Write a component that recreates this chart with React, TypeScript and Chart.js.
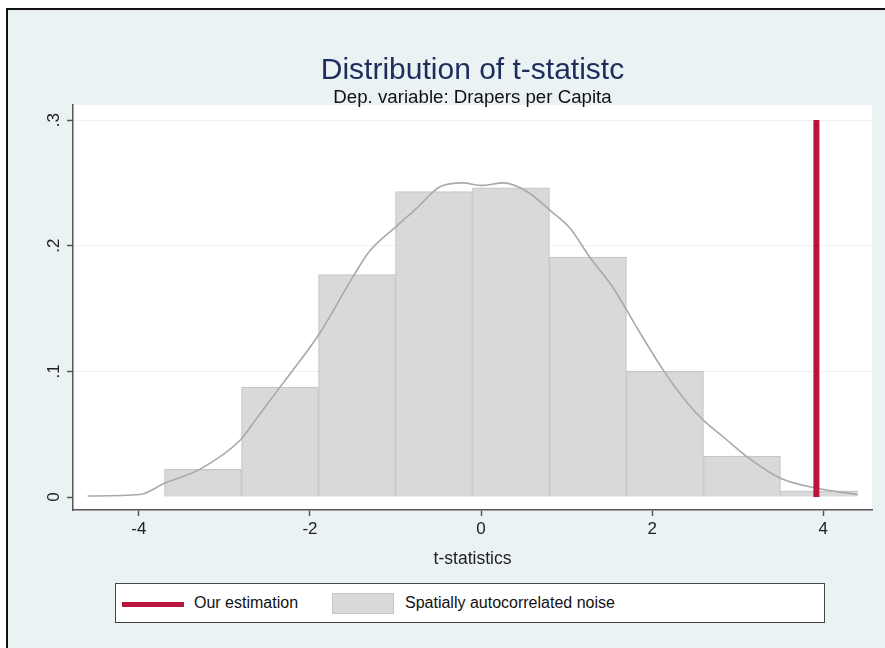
import React, { useEffect, useRef } from 'react';
import { Chart, registerables } from 'chart.js';

Chart.register(...registerables);

// Histogram bins (bin width 0.9)
const binCenters = [-3.25, -2.35, -1.45, -0.55, 0.35, 1.25, 2.15, 3.05, 3.95];
const binHeights = [0.022, 0.0875, 0.177, 0.243, 0.246, 0.191, 0.1, 0.0326, 0.005];

// Kernel density curve
const densityX = [-4.6, -3.99, -3.7, -3.29, -2.82, -2.62, -2.35, -1.88, -1.5, -1.3, -0.98, -0.75, -0.48, -0.21, 0.0, 0.26, 0.54, 0.81, 1.04, 1.27, 1.54, 1.82, 2.13, 2.41, 2.6, 2.83, 3.11, 3.5, 3.93, 4.4];
const densityY = [0.0008, 0.002, 0.011, 0.022, 0.045, 0.063, 0.0875, 0.131, 0.175, 0.196, 0.216, 0.23, 0.247, 0.25, 0.248, 0.25, 0.243, 0.228, 0.214, 0.191, 0.167, 0.135, 0.101, 0.075, 0.061, 0.048, 0.032, 0.015, 0.007, 0.002];

// Our estimation (vertical line)
const estimationX = 3.92;
const estimationSpan = [0, 0.3];

// Axes
const xTicks = [-4, -2, 0, 2, 4];
const xTickLabels = ['-4', '-2', '0', '2', '4'];
const yTicks = [0, 0.1, 0.2, 0.3];
const yTickLabels = ['0', '.1', '.2', '.3'];

const FONT = '"Liberation Sans", Arial, Helvetica, sans-serif';

export default function App() {
  const ref = useRef<HTMLCanvasElement>(null);

  useEffect(() => {
    const plotBg = {
      id: 'plotBg',
      beforeDraw(chart: any) {
        const { ctx, chartArea } = chart;
        ctx.save();
        ctx.fillStyle = '#ffffff';
        ctx.fillRect(chartArea.left, chartArea.top, chartArea.right - chartArea.left, chartArea.bottom - chartArea.top);
        ctx.restore();
      },
    };

    const chart = new Chart(ref.current as HTMLCanvasElement, {
      type: 'bar',
      data: {
        datasets: [
          {
            type: 'line',
            label: 'Our estimation',
            data: estimationSpan.map((y) => ({ x: estimationX, y })),
            borderColor: '#b8143e',
            borderWidth: 6,
            borderCapStyle: 'butt',
            pointRadius: 0,
            fill: false,
            order: 0,
          } as any,
          {
            type: 'line',
            label: 'density',
            data: densityX.map((x, i) => ({ x, y: densityY[i] })),
            borderColor: '#a9a9a9',
            borderWidth: 1.6,
            pointRadius: 0,
            tension: 0.4,
            cubicInterpolationMode: 'monotone',
            fill: false,
            order: 1,
          } as any,
          {
            type: 'bar',
            label: 'Spatially autocorrelated noise',
            data: binCenters.map((x, i) => ({ x, y: binHeights[i] })),
            backgroundColor: '#d9d9d9',
            borderColor: '#c6c6c6',
            borderWidth: 1.2,
            barPercentage: 1,
            categoryPercentage: 1,
            order: 2,
          } as any,
        ],
      },
      options: {
        animation: false,
        responsive: false,
        events: [],
        layout: { padding: { left: 0, top: 105, right: 13, bottom: 78 } },
        plugins: {
          legend: { display: false },
          title: { display: false },
          tooltip: { enabled: false },
        },
        scales: {
          x: {
            type: 'linear',
            min: -4.77,
            max: 4.57,
            offset: false,
            afterBuildTicks: (scale: any) => {
              scale.ticks = xTicks.map((v) => ({ value: v }));
            },
            afterFit: (scale: any) => {
              scale.height = 60;
            },
            ticks: {
              padding: 3,
              color: '#222',
              font: { family: FONT, size: 17 },
              maxRotation: 0,
              autoSkip: false,
              callback: (v: any) => {
                const i = xTicks.indexOf(Number(v));
                return i >= 0 ? xTickLabels[i] : '';
              },
            },
            grid: {
              offset: false,
              drawOnChartArea: false,
              drawTicks: true,
              tickLength: 6,
              tickColor: '#555',
              tickWidth: 1.5,
            },
            border: { display: true, color: '#555', width: 1.5 },
            title: {
              display: true,
              text: 't-statistics',
              color: '#222',
              font: { family: FONT, size: 17.5 },
              padding: { top: 0, bottom: 0 },
            },
          },
          y: {
            type: 'linear',
            min: -0.0103,
            max: 0.312,
            afterBuildTicks: (scale: any) => {
              scale.ticks = yTicks.map((v) => ({ value: v }));
            },
            afterFit: (scale: any) => {
              scale.width = 73;
            },
            ticks: {
              padding: 6,
              color: '#222',
              minRotation: 90,
              maxRotation: 90,
              crossAlign: 'center',
              autoSkip: false,
              font: { family: FONT, size: 17 },
              callback: (v: any) => {
                const i = yTicks.findIndex((t) => Math.abs(t - Number(v)) < 1e-9);
                return i >= 0 ? yTickLabels[i] : '';
              },
            },
            grid: {
              drawOnChartArea: true,
              drawTicks: true,
              tickLength: 6,
              tickColor: '#555',
              tickWidth: 1.5,
              lineWidth: 1,
              color: (ctx: any) => (ctx.tick && ctx.tick.value === 0 ? 'rgba(0,0,0,0)' : '#eef1f2'),
            },
            border: { display: true, color: '#555', width: 1.5 },
          },
        },
      },
      plugins: [plotBg],
    } as any);

    return () => chart.destroy();
  }, []);

  return (
    <div style={{ position: 'fixed', left: 0, top: 0, width: 885, height: 648, background: '#ffffff', overflow: 'hidden', fontFamily: FONT }}>
      <div
        style={{
          position: 'absolute',
          left: 6,
          top: 8,
          width: 884,
          height: 645,
          border: '2px solid #111',
          background: '#eaf2f3',
          boxSizing: 'border-box',
        }}
      />
      <canvas ref={ref} width={885} height={648} style={{ position: 'absolute', left: 0, top: 0, width: 885, height: 648 }} />
      <div
        style={{
          position: 'absolute',
          left: 73,
          width: 799,
          top: 52,
          textAlign: 'center',
          fontSize: 30,
          lineHeight: '34px',
          color: '#1e2d5c',
          whiteSpace: 'nowrap',
        }}
      >
        Distribution of t-statistc
      </div>
      <div
        style={{
          position: 'absolute',
          left: 73,
          width: 799,
          top: 86,
          textAlign: 'center',
          fontSize: 18.7,
          lineHeight: '22px',
          color: '#111',
          whiteSpace: 'nowrap',
        }}
      >
        Dep. variable: Drapers per Capita
      </div>
      <div
        style={{
          position: 'absolute',
          left: 115,
          top: 583,
          width: 710,
          height: 40,
          border: '1px solid #444',
          background: '#ffffff',
          boxSizing: 'border-box',
        }}
      >
        <div style={{ position: 'absolute', left: 6, top: 18, width: 62, height: 5, background: '#b8143e' }} />
        <div style={{ position: 'absolute', left: 78, top: 9, fontSize: 16, lineHeight: '20px', color: '#111', whiteSpace: 'nowrap' }}>
          Our estimation
        </div>
        <div style={{ position: 'absolute', left: 216, top: 9, width: 62, height: 21, background: '#d9d9d9', border: '1px solid #c6c6c6', boxSizing: 'border-box' }} />
        <div style={{ position: 'absolute', left: 289, top: 9, fontSize: 16, lineHeight: '20px', color: '#111', whiteSpace: 'nowrap' }}>
          Spatially autocorrelated noise
        </div>
      </div>
    </div>
  );
}
